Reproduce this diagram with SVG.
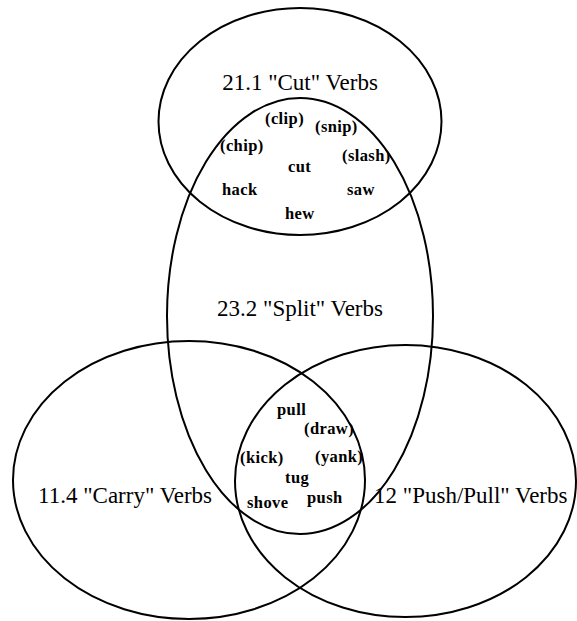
<svg xmlns="http://www.w3.org/2000/svg" width="577" height="621" viewBox="0 0 577 621">
<style>
.set{fill:none;stroke:#000;stroke-width:2}
.title{font-family:"Liberation Serif","Times New Roman",serif;font-size:23px;fill:#000}
.w{font-family:"Liberation Serif","Times New Roman",serif;font-size:16.5px;font-weight:bold;fill:#000;letter-spacing:0.4px}
</style>
<rect width="577" height="621" fill="#fff"/>
<g id="cut">
<ellipse class="set" cx="300" cy="121.5" rx="141.5" ry="113.5"/>
<text class="title" x="300" y="90" text-anchor="middle">21.1 "Cut" Verbs</text>
</g>
<g id="split">
<ellipse class="set" cx="300" cy="316" rx="133" ry="218"/>
<text class="title" x="300" y="316" text-anchor="middle">23.2 "Split" Verbs</text>
</g>
<g id="carry">
<ellipse class="set" cx="189" cy="480" rx="176" ry="139"/>
<text class="title" x="38" y="503">11.4 "Carry" Verbs</text>
</g>
<g id="pushpull">
<ellipse class="set" cx="405.5" cy="481" rx="170.5" ry="136"/>
<text class="title" x="374" y="503">12 "Push/Pull" Verbs</text>
</g>
<g id="cut-split-words">
<text class="w" x="265" y="124">(clip)</text>
<text class="w" x="315" y="132">(snip)</text>
<text class="w" x="220" y="151">(chip)</text>
<text class="w" x="342" y="161">(slash)</text>
<text class="w" x="288" y="172">cut</text>
<text class="w" x="222" y="195">hack</text>
<text class="w" x="347" y="195">saw</text>
<text class="w" x="285" y="219">hew</text>
</g>
<g id="center-words">
<text class="w" x="277" y="415">pull</text>
<text class="w" x="304" y="434">(draw)</text>
<text class="w" x="240" y="463">(kick)</text>
<text class="w" x="315" y="462">(yank)</text>
<text class="w" x="285" y="483">tug</text>
<text class="w" x="247" y="508">shove</text>
<text class="w" x="307" y="503">push</text>
</g>
<g id="connectors"></g>
</svg>
